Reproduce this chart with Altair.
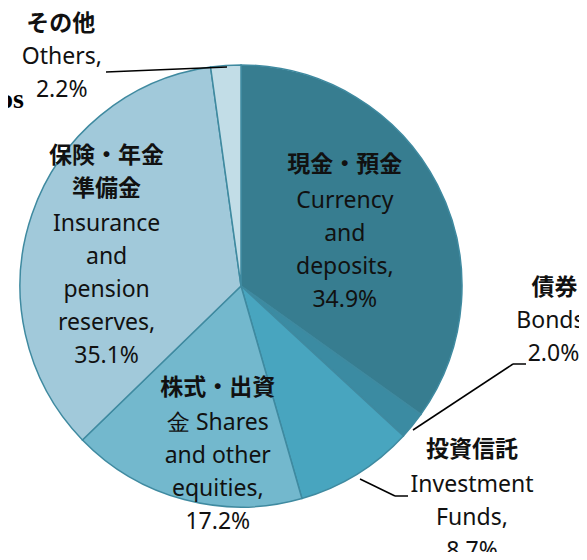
import altair as alt
import pandas as pd

# ---- data ----
categories = ["Currency and deposits", "Bonds", "Investment Funds",
              "Shares and other equities", "Insurance and pension reserves", "Others"]
values = [34.9, 2.0, 8.7, 17.2, 35.1, 2.2]
jp_labels = ["現金・預金", "債券", "投資信託", "株式・出資", "保険・年金\n準備金", "その他"]
en_labels = ["Currency\nand\ndeposits,", "Bonds,", "Investment\nFunds,",
             "金 Shares\nand other\nequities,", "Insurance\nand\npension\nreserves,", "Others,"]
colors = ["#377d90", "#3b8ba2", "#48a5bf", "#73b8cd", "#a1c9da", "#c2dde7"]

total = sum(values)
df = pd.DataFrame({
    "cat": categories,
    "value": values,
    "idx": list(range(len(categories))),
    "jp": jp_labels,
    "en": [f"{e}\n{v:.1f}%" for e, v in zip(en_labels, values)],
})

# ---- layout (style only) ----
CX, CY, R = 233, 278, 221
W, H = 571, 544
EN_FONT = "Noto Sans"
JP_FONT = "Noto Sans CJK JP"
# per label: (radius of anchor, jp dx, jp dy (first line), en dx, en dy (first line))
label_layout = {
    "Currency and deposits": (110, 6, -71, 6, -35),
    "Bonds": (221, 142, -137, 141, -104),
    "Investment Funds": (221, 115, -24, 115, 11),
    "Shares and other equities": (160, 18, -53, 18, -18),
    "Insurance and pension reserves": (140, -2, -84, -2, -16),
    "Others": (221, -165, -42, -164, -9),
}

theta_scale = alt.Scale(domain=[0, total])

pie = alt.Chart(df).mark_arc(
    outerRadius=R, stroke="#3f8aa0", strokeWidth=1.5
).encode(
    theta=alt.Theta("value:Q", stack=True, scale=theta_scale),
    order=alt.Order("idx:Q"),
    color=alt.Color("cat:N", scale=alt.Scale(domain=categories, range=colors), legend=None),
    x=alt.value(CX), y=alt.value(CY),
)

base_lbl = alt.Chart(df).transform_window(
    cum="sum(value)", sort=[alt.SortField("idx")], frame=[None, 0]
).transform_calculate(mid="datum.cum - datum.value / 2")

layers = [pie]
for cat, (r, jdx, jdy, edx, edy) in label_layout.items():
    b = base_lbl.transform_filter(alt.datum.cat == cat)
    layers.append(b.mark_text(
        radius=r, dx=jdx, dy=jdy, font=JP_FONT, fontSize=23, fontWeight="bold",
        lineBreak="\n", lineHeight=33, align="center", baseline="middle", color="#111111"
    ).encode(theta=alt.Theta("mid:Q", scale=theta_scale), text="jp:N",
             x=alt.value(CX), y=alt.value(CY)))
    layers.append(b.mark_text(
        radius=r, dx=edx, dy=edy, font=EN_FONT, fontSize=23,
        lineBreak="\n", lineHeight=33, align="center", baseline="middle", color="#111111"
    ).encode(theta=alt.Theta("mid:Q", scale=theta_scale), text="en:N",
             x=alt.value(CX), y=alt.value(CY)))

# leader lines (annotation)
segs = [((98, 64), (219, 59)),
        ((405, 422), (505, 356)), ((505, 356), (518, 356)),
        ((352, 471), (387, 488)), ((387, 488), (400, 488))]
for (x1, y1), (x2, y2) in segs:
    layers.append(alt.Chart(pd.DataFrame({"a": [0]})).mark_rule(
        color="#000000", strokeWidth=1.5
    ).encode(x=alt.value(x1), y=alt.value(y1), x2=alt.value(x2), y2=alt.value(y2)))

# clipped title fragment
layers.append(alt.Chart(pd.DataFrame({"t": ["os"]})).mark_text(
    font="Liberation Serif", fontSize=28, fontWeight="bold", align="right",
    baseline="alphabetic", color="#000000"
).encode(text="t:N", x=alt.value(16), y=alt.value(100)))

chart = alt.layer(*layers).properties(
    width=W, height=H, padding=0, autosize=alt.AutoSizeParams(type="none")
).configure_view(stroke=None)

chart.save("out.html", embed_options={"renderer": "svg", "actions": False})
